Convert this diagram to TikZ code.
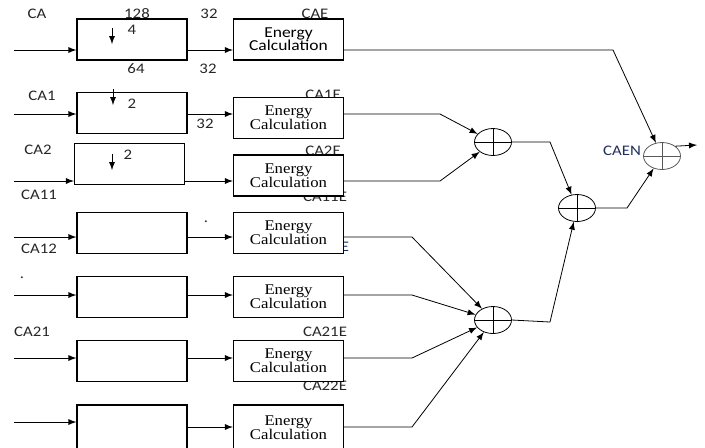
\documentclass[tikz,border=0pt]{standalone}
\usepackage{fontspec}
\setmainfont[FakeStretch=1.13]{Liberation Serif}
\newfontfamily\lblfont[FakeStretch=1.15]{Carlito}
\usetikzlibrary{shapes.geometric}
\definecolor{ink}{HTML}{262626}
\definecolor{bluink}{HTML}{1F2F5A}
\begin{document}
\begin{tikzpicture}[x=0.5pt, y=-0.5pt, >=latex, thin,
  lab/.style={font=\lblfont\fontsize{7.3}{8}\selectfont, text=ink, inner sep=0pt},
  dbox/.style={draw, semithick, fill=white, minimum width=55pt, minimum height=20.5pt, inner sep=0pt},
  ebox/.style={dbox, align=center, font={\fontsize{7.4}{7}\selectfont\lineskiplimit-5pt}},
  sumnode/.style={draw, ellipse, fill=white, minimum width=18.5pt, minimum height=13.5pt, inner sep=0pt,
    path picture={\draw (path picture bounding box.north) -- (path picture bounding box.south)
                        (path picture bounding box.west) -- (path picture bounding box.east);}}]
\useasboundingbox (0,0) rectangle (705,447);

% labels (behind the boxes)
\node[lab] (lca) at (37,14) {CA};
\node[lab] (l128) at (137,14) {128};
\node[lab] (l32a) at (209,14) {32};
\node[lab] (lcae) at (315,14) {CAE};
\node[lab] (l64) at (136,69) {64};
\node[lab] (l32b) at (208,69) {32};
\node[lab] (lca1) at (42,96) {CA1};
\node[lab] (l32c) at (205,124) {32};
\node[lab] (lca1e) at (323,95) {CA1E};
\node[lab] (lca2) at (38,150) {CA2};
\node[lab] (lca2e) at (323,151) {CA2E};
\node[lab] (lca11) at (39,195) {CA11};
\node[lab] (lca11e) at (325,197) {CA11E};
\node[lab] (ldota) at (206,222) {.};
\node[lab] (lca12) at (39,249) {CA12};
\node[lab, text=bluink] (lca12e) at (327,247) {CA12E};
\node[lab] (ldotb) at (22,278) {.};
\node[lab] (lca21) at (32,332) {CA21};
\node[lab] (lca21e) at (325,332) {CA21E};
\node[lab] (lca22e) at (325,386) {CA22E};
\node[lab, text=bluink] (lcaen) at (622,151) {CAEN};

% row levels
\coordinate (i1) at (14,50);
\coordinate (i2) at (14,114);
\coordinate (i3) at (14,181);
\coordinate (i4) at (14,237);
\coordinate (i5) at (14,295);
\coordinate (i6) at (14,358);
\coordinate (i7) at (14,422);
\coordinate (m7) at (14,427);

% down-sampling boxes
\node[dbox] (d1) at (132,39.5) {};
\node[dbox] (d2) at (132,113) {};
\node[dbox] (d3) at (129.5,164) {};
\node[dbox] (d4) at (132,233) {};
\node[dbox] (d5) at (132,297) {};
\node[dbox] (d6) at (132,361) {};
\node[dbox, minimum height=23pt] (d7) at (132,428) {};
\node[lab] (l4) at (132,30) {4};
\node[lab] (l2a) at (132,104) {2};
\node[lab] (l2b) at (128,155) {2};

% energy boxes
\node[ebox, font={\lblfont\fontsize{7.6}{6.6}\selectfont\lineskiplimit-5pt}] (e1) at (288.5,39.5) {Energy\\Calculation};
\node[ebox] (e2) at (288.5,118) {Energy\\Calculation};
\node[ebox] (e3) at (288.5,175.5) {Energy\\Calculation};
\node[ebox] (e4) at (288.5,233) {Energy\\Calculation};
\node[ebox] (e5) at (288.5,297) {Energy\\Calculation};
\node[ebox] (e6) at (288.5,361) {Energy\\Calculation};
\node[ebox, minimum height=23pt] (e7) at (288.5,428) {Energy\\Calculation};

% adders
\node[sumnode] (s1) at (493,142) {};
\node[sumnode] (s2) at (577,208) {};
\node[sumnode] (s3) at (493,320) {};
\node[sumnode, draw=black!65] (s4) at (662,156) {};
\coordinate (out) at (697,145);

% down arrows
\draw[->] (112,28) -- (112,44);
\draw[->] (113,89) -- (113,105);
\draw[->] (112,154) -- (112,170);

% inputs and box to box
\foreach \r in {1,...,7} {
  \draw[->] (i\r) -- (d\r.west |- i\r);
}
\foreach \r in {1,...,6} {
  \draw[->] (d\r.east |- i\r) -- (e\r.west |- i\r);
}
\draw[->] (d7.east |- m7) -- (e7.west |- m7);

% energies to adders
\draw[->] (e1.east |- i1) -- (613,50) -- (s4);
\draw[->] (e2.east |- i2) -- (440,114) -- (s1);
\draw[->] (e3.east |- i3) -- (440,181) -- (s1);
\draw[->] (e4.east |- i4) -- (412,237) -- (s3);
\draw[->] (e5.east |- i5) -- (412,295) -- (s3);
\draw[->] (e6.east |- i6) -- (412,358) -- (s3);
\draw[->] (e7.east |- m7) -- (412,427) -- (s3);
\draw[->] (s1.east) -- (550,142) -- (s2);
\draw[->] (s3.east) -- (550,322) -- (s2);
\draw[->] (s2.east) -- (627,208) -- (s4);
\draw[->] (s4.north east) -- (out);
\end{tikzpicture}
\end{document}
